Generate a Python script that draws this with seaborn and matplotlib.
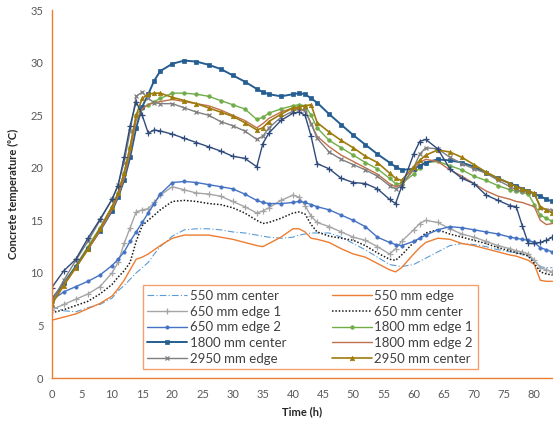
import matplotlib
matplotlib.use("Agg")
import matplotlib.pyplot as plt
import seaborn as sns
import numpy as np
import pandas as pd
from matplotlib.ticker import MultipleLocator

# ---------------- data ----------------
time_h = [0, 2, 4, 6, 8, 10, 11, 12, 13, 14, 15, 16, 17, 18, 20, 22, 24, 26, 28, 30,
          32, 34, 35, 36, 38, 40, 41, 42, 43, 44, 46, 48, 50, 52, 54, 56, 57, 58, 60, 61,
          62, 64, 66, 68, 70, 72, 74, 76, 77, 78, 79, 80, 81, 82, 83]

c550_center = [6.8, 6.4, 6.3, 6.7, 7.0, 7.6, 8.3, 8.8, 9.4, 10.0, 10.5, 11.0, 11.8, 12.5, 13.5, 14.1, 14.2, 14.2, 14.1, 13.9,
               13.8, 13.6, 13.5, 13.4, 13.3, 13.4, 13.6, 13.7, 13.8, 13.8, 13.8, 13.4, 12.8, 12.2, 11.5, 10.8, 10.7, 10.6, 10.8, 11.1,
               11.4, 12.0, 12.6, 12.8, 12.7, 12.5, 12.2, 12.0, 11.9, 11.8, 11.6, 11.2, 10.6, 10.5, 10.5]
c550_edge = [5.5, 5.8, 6.1, 6.6, 7.1, 7.8, 8.5, 9.3, 10.3, 11.3, 11.5, 11.8, 12.2, 12.6, 13.3, 13.6, 13.6, 13.6, 13.4, 13.2,
             12.9, 12.6, 12.5, 12.8, 13.4, 14.2, 14.2, 13.9, 13.3, 13.2, 12.9, 12.3, 11.8, 11.5, 10.9, 10.3, 10.1, 10.5, 11.8, 12.4,
             12.9, 13.3, 13.2, 12.8, 12.6, 12.3, 12.0, 11.7, 11.6, 11.4, 11.2, 10.8, 9.3, 9.2, 9.2]
c650_edge1 = [6.5, 7.0, 7.5, 8.0, 8.7, 10.0, 11.0, 12.8, 14.3, 15.8, 16.0, 16.1, 16.7, 17.4, 18.2, 17.9, 17.6, 17.5, 17.3, 16.8,
              16.3, 15.7, 15.9, 16.2, 16.9, 17.4, 17.2, 16.4, 15.4, 14.8, 14.4, 13.9, 13.4, 13.1, 12.5, 11.8, 12.3, 13.0, 14.1, 14.7,
              15.0, 14.8, 14.2, 13.7, 13.4, 13.0, 12.6, 12.3, 12.1, 12.0, 11.8, 11.2, 10.5, 10.3, 10.1]
c650_center = [6.2, 6.5, 6.9, 7.3, 8.0, 8.9, 9.6, 10.2, 11.0, 13.0, 14.5, 15.0, 15.5, 16.0, 16.8, 16.9, 16.8, 16.6, 16.5, 16.2,
               15.7, 15.0, 14.7, 14.8, 15.2, 15.7, 15.8, 15.6, 14.6, 13.9, 13.5, 13.3, 13.1, 12.6, 11.9, 11.3, 11.2, 11.7, 12.9, 13.3,
               13.8, 14.1, 13.7, 13.4, 13.1, 12.8, 12.4, 12.1, 11.9, 11.8, 11.6, 10.9, 10.1, 9.9, 9.8]
c650_edge2 = [7.4, 8.2, 8.7, 9.2, 9.8, 10.7, 11.3, 12.0, 13.0, 13.9, 14.8, 15.7, 16.6, 17.5, 18.6, 18.7, 18.6, 18.4, 18.2, 18.0,
              17.5, 16.9, 16.7, 16.6, 16.6, 16.7, 16.8, 16.7, 16.5, 16.3, 16.0, 15.5, 15.0, 14.4, 13.4, 12.9, 12.7, 12.6, 13.0, 13.3,
              13.6, 14.1, 14.4, 14.3, 14.1, 13.9, 13.7, 13.4, 13.3, 13.2, 13.1, 12.9, 12.4, 12.2, 12.0]
c1800_edge1 = [7.2, 9.0, 10.7, 12.5, 14.3, 16.3, 17.6, 19.5, 22.0, 25.0, 25.7, 26.0, 26.3, 26.6, 27.1, 27.1, 27.0, 26.8, 26.4, 26.0,
               25.6, 24.6, 24.8, 25.2, 25.6, 25.9, 26.0, 25.9, 25.0, 23.8, 22.6, 21.9, 21.2, 20.5, 19.9, 19.0, 18.5, 18.5, 19.4, 20.0,
               20.5, 20.6, 20.2, 19.8, 19.2, 18.8, 18.3, 17.9, 17.8, 17.7, 17.5, 16.5, 15.5, 15.2, 14.9]
c1800_center = [7.5, 9.0, 10.6, 12.3, 14.0, 15.9, 17.2, 18.8, 21.0, 23.8, 25.8, 27.0, 28.3, 29.2, 29.9, 30.2, 30.1, 29.8, 29.4, 28.8,
                28.2, 27.5, 27.2, 27.0, 26.8, 27.0, 27.1, 27.0, 26.6, 26.2, 25.1, 24.1, 23.1, 22.2, 21.3, 20.5, 20.1, 19.8, 19.9, 20.2,
                20.5, 20.8, 20.7, 20.5, 20.1, 19.5, 19.0, 18.5, 18.3, 18.0, 17.8, 17.5, 17.3, 17.0, 16.8]
c1800_edge2 = [7.1, 8.9, 10.5, 12.2, 14.0, 16.0, 17.3, 19.0, 21.5, 24.5, 25.6, 26.0, 26.2, 26.3, 26.5, 26.3, 26.1, 25.9, 25.5, 25.0,
               24.5, 23.8, 24.2, 24.7, 25.3, 25.7, 25.6, 25.4, 24.2, 23.0, 22.0, 21.2, 20.6, 20.0, 19.4, 18.5, 18.2, 18.4, 19.8, 20.5,
               20.8, 20.6, 19.8, 19.2, 18.5, 17.8, 17.3, 17.0, 16.8, 16.7, 16.5, 16.3, 15.0, 14.6, 14.7]
c2950_edge = [7.3, 9.3, 11.2, 13.0, 15.0, 17.0, 18.4, 20.5, 23.5, 26.8, 27.2, 26.6, 26.2, 26.1, 26.1, 25.7, 25.3, 25.0, 24.4, 24.0,
              23.5, 22.7, 23.0, 23.8, 24.8, 25.4, 25.6, 25.5, 24.2, 22.8, 21.5, 20.8, 20.3, 19.8, 19.2, 18.3, 18.0, 18.3, 20.0, 21.3,
              21.9, 21.8, 21.0, 20.4, 19.9, 19.5, 18.8, 18.2, 17.9, 17.8, 17.7, 17.5, 16.2, 16.0, 16.0]
c2950_center = [7.0, 8.8, 10.5, 12.3, 14.2, 16.3, 17.6, 19.5, 22.0, 25.0, 26.6, 27.0, 27.1, 27.1, 26.7, 26.4, 26.1, 25.7, 25.3, 24.9,
                24.3, 23.6, 23.8, 24.4, 25.1, 25.7, 25.8, 25.9, 26.0, 24.3, 23.4, 22.6, 21.9, 21.1, 20.5, 19.5, 19.0, 18.8, 20.1, 20.7,
                21.2, 21.7, 21.5, 21.0, 20.3, 19.6, 19.0, 18.5, 18.2, 18.0, 17.8, 17.6, 16.3, 16.0, 15.7]
# series drawn in the chart but not listed in its legend
c_unlisted = [8.6, 10.2, 11.3, 13.3, 15.1, 17.0, 18.3, 21.0, 24.0, 26.3, 25.0, 23.3, 23.6, 23.5, 23.2, 22.8, 22.4, 22.0, 21.6, 21.1,
              20.9, 20.1, 22.3, 23.3, 24.5, 25.2, 25.3, 25.0, 23.0, 20.4, 19.9, 19.0, 18.6, 18.5, 18.0, 17.0, 16.6, 18.2, 21.3, 22.5,
              22.7, 21.8, 19.9, 19.0, 18.5, 17.4, 16.9, 16.4, 16.3, 14.5, 12.8, 12.8, 12.9, 13.1, 13.4]

labels = ["550 mm center", "550 mm edge", "650 mm edge 1", "650 mm center", "650 mm edge 2",
          "1800 mm edge 1", "1800 mm center", "1800 mm edge 2", "2950 mm edge", "2950 mm center"]
series = [c550_center, c550_edge, c650_edge1, c650_center, c650_edge2,
          c1800_edge1, c1800_center, c1800_edge2, c2950_edge, c2950_center]

x_ticks = list(range(0, 85, 5))
y_ticks = list(range(0, 40, 5))

# ---------------- style ----------------
sns.set_style("white")
plt.rcParams['font.family'] = ['Lato', 'DejaVu Sans']

styles = {
    "550 mm center": dict(color="#5B9BD5", linestyle=(0, (6, 2, 1, 2)), lw=0.8, marker=None),
    "550 mm edge": dict(color="#ED7D31", linestyle="-", lw=1.0, marker=None),
    "650 mm edge 1": dict(color="#A5A5A5", linestyle="-", lw=1.0, marker="+", ms=5, mew=0.9),
    "650 mm center": dict(color="#1A1A1A", linestyle=(0, (1, 1.2)), lw=1.1, marker=None),
    "650 mm edge 2": dict(color="#4472C4", linestyle="-", lw=1.0, marker="o", ms=2.4, mew=0.5),
    "1800 mm edge 1": dict(color="#70AD47", linestyle="-", lw=1.0, marker="o", ms=2.6, mew=0.5),
    "1800 mm center": dict(color="#255E91", linestyle="-", lw=1.4, marker="s", ms=3.0, mew=0.5),
    "1800 mm edge 2": dict(color="#C0704A", linestyle="-", lw=1.0, marker=None),
    "2950 mm edge": dict(color="#7F7F7F", linestyle="-", lw=1.0, marker="x", ms=2.8, mew=0.9),
    "2950 mm center": dict(color="#9E7C0C", linestyle="-", lw=1.2, marker="^", ms=3.2, mew=0.5),
}

fig = plt.figure(figsize=(5.53, 4.21), dpi=100)
ax = fig.add_axes([0.0935, 0.102, 0.9065, 0.874])

handles = {}
for lab, vals in zip(labels, series):
    st = dict(styles[lab])
    col = st.pop("color")
    ls = st.pop("linestyle")
    sns.lineplot(x=time_h, y=vals, ax=ax, color=col, linestyle=ls, label=lab,
                 legend=False, markeredgecolor=col, markerfacecolor=col, **st)
    handles[lab] = ax.lines[-1]

unl_col = "#2F4B7C"
sns.lineplot(x=time_h, y=c_unlisted, ax=ax, color=unl_col, linestyle="-", lw=1.0,
             marker="+", ms=4.5, mew=0.9, markeredgecolor=unl_col, legend=False)

orange = "#ED7D31"
ax.set_xlim(0, 83.1)
ax.set_ylim(0, 35)
ax.set_xticks(x_ticks)
ax.set_yticks(y_ticks)
ax.xaxis.set_minor_locator(MultipleLocator(2.5))
for s in ["top", "right"]:
    ax.spines[s].set_visible(False)
for s in ["left", "bottom"]:
    ax.spines[s].set_color(orange)
    ax.spines[s].set_linewidth(1.0)
ax.tick_params(axis="both", which="both", direction="in", colors=orange,
               labelcolor="#595959", labelsize=8)
ax.tick_params(axis="x", which="major", length=4, pad=8)
ax.tick_params(axis="x", which="minor", length=2.5)
ax.tick_params(axis="y", which="major", length=3, pad=6)

ax.set_xlabel("Time (h)", fontsize=8, fontweight="bold", color="#262626", labelpad=4)
ax.set_ylabel("Concrete temperature (\u2070C)", fontsize=8, fontweight="bold",
              color="#262626", labelpad=8)

col1 = ["550 mm center", "650 mm edge 1", "650 mm edge 2", "1800 mm center", "2950 mm edge"]
col2 = ["550 mm edge", "650 mm center", "1800 mm edge 1", "1800 mm edge 2", "2950 mm center"]
order = col1 + col2
leg = ax.legend([handles[l] for l in order], order, ncol=2, loc="lower left",
                bbox_to_anchor=(0.1815, 0.024, 0.668, 0.238), mode="expand",
                frameon=True, fancybox=False, fontsize=9.5, handlelength=3.0,
                handletextpad=0.2, labelspacing=0.28, borderaxespad=0,
                columnspacing=1.0, borderpad=0.35, markerscale=1.0)
leg.get_frame().set_edgecolor("#F4A06A")
leg.get_frame().set_linewidth(1.0)
leg.get_frame().set_facecolor("white")
leg.get_frame().set_alpha(1.0)
for t in leg.get_texts():
    t.set_color("#404040")
leg.set_zorder(10)

fig.savefig("out.png", dpi=100)
